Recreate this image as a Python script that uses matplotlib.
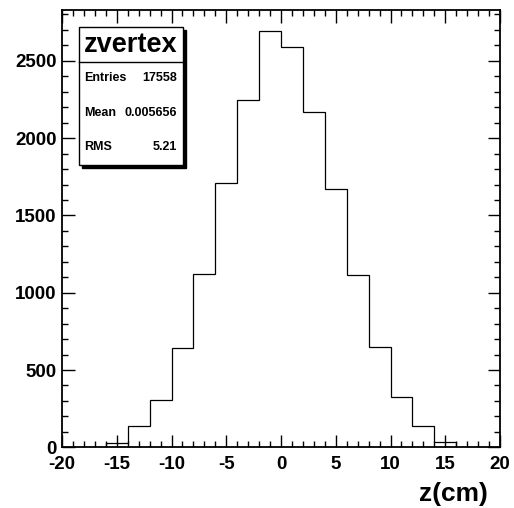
import matplotlib
matplotlib.use("Agg")
import matplotlib.pyplot as plt
from matplotlib.patches import Rectangle
from matplotlib.ticker import MultipleLocator

# Data
bin_edges = [-16, -14, -12, -10, -8, -6, -4, -2, 0, 2, 4, 6, 8, 10, 12, 14, 16]
counts = [26, 138, 306, 640, 1119, 1712, 2246, 2695, 2591, 2171, 1673, 1112, 651, 327, 138, 36]
hist_name = "zvertex"
stat_labels = ["Entries", "Mean", "RMS"]
stat_values = ["17558", "0.005656", "5.21"]
x_title = "z(cm)"
x_tick_values = [-20, -15, -10, -5, 0, 5, 10, 15, 20]
x_tick_labels = ["-20", "-15", "-10", "-5", "0", "5", "10", "15", "20"]

W, H = 514, 508
fig = plt.figure(figsize=(W / 100, H / 100), dpi=100)
fig.patch.set_facecolor("white")

def fx(px):
    return px / W

def fy(py):
    return 1 - py / H

ax = fig.add_axes([fx(62), fy(447.3), fx(500) - fx(62), fy(10) - fy(447.3)])
ax.stairs(counts, bin_edges, color="black", linewidth=0.9, baseline=0)
ax.set_xlim(-20, 20)
ax.set_ylim(0, 2829)

font = "Liberation Sans"
ax.xaxis.set_major_locator(MultipleLocator(5))
ax.xaxis.set_minor_locator(MultipleLocator(1))
ax.yaxis.set_major_locator(MultipleLocator(500))
ax.yaxis.set_minor_locator(MultipleLocator(100))
ax.tick_params(which="both", direction="in", top=True, right=True, width=1.0, color="black")
ax.tick_params(which="major", length=9)
ax.tick_params(which="minor", length=4.5)
ax.tick_params(axis="x", which="major", pad=6.5)
ax.tick_params(axis="y", which="major", pad=4)
for lab in ax.get_yticklabels():
    lab.set_fontfamily(font)
    lab.set_fontweight("bold")
    lab.set_fontsize(13.5)
ax.set_xticks(x_tick_values)
ax.set_xticklabels(x_tick_labels, fontfamily=font, fontweight="bold", fontsize=13.5)
for s in ax.spines.values():
    s.set_linewidth(1.3)

fig.text(fx(488), fy(494), x_title, ha="right", va="center",
         fontfamily=font, fontweight="bold", fontsize=19)

# Stat box
bx0, by0, bx1, by1 = 79, 27.3, 183, 165
shadow = Rectangle((fx(bx0 + 3), fy(by1 + 3)), fx(bx1) - fx(bx0), fy(by0) - fy(by1),
                   transform=fig.transFigure, facecolor="black", edgecolor="black", zorder=5)
box = Rectangle((fx(bx0), fy(by1)), fx(bx1) - fx(bx0), fy(by0) - fy(by1),
                transform=fig.transFigure, facecolor="white", edgecolor="black",
                linewidth=1.0, zorder=6)
fig.add_artist(shadow)
fig.add_artist(box)
fig.add_artist(plt.Line2D([fx(bx0), fx(bx1)], [fy(61.7), fy(61.7)], transform=fig.transFigure,
                          color="black", linewidth=1.0, zorder=7))
fig.text(fx((bx0 + bx1) / 2), fy(45), hist_name, ha="center", va="center",
         fontfamily=font, fontweight="bold", fontsize=19.5, zorder=8)
rows_y = [77.7, 112.7, 146.7]
for lab, val, yy in zip(stat_labels, stat_values, rows_y):
    fig.text(fx(84), fy(yy), lab, ha="left", va="center",
             fontfamily=font, fontweight="bold", fontsize=9, zorder=8)
    fig.text(fx(177), fy(yy), val, ha="right", va="center",
             fontfamily=font, fontweight="bold", fontsize=9, zorder=8)

fig.savefig("out.png", dpi=100)
